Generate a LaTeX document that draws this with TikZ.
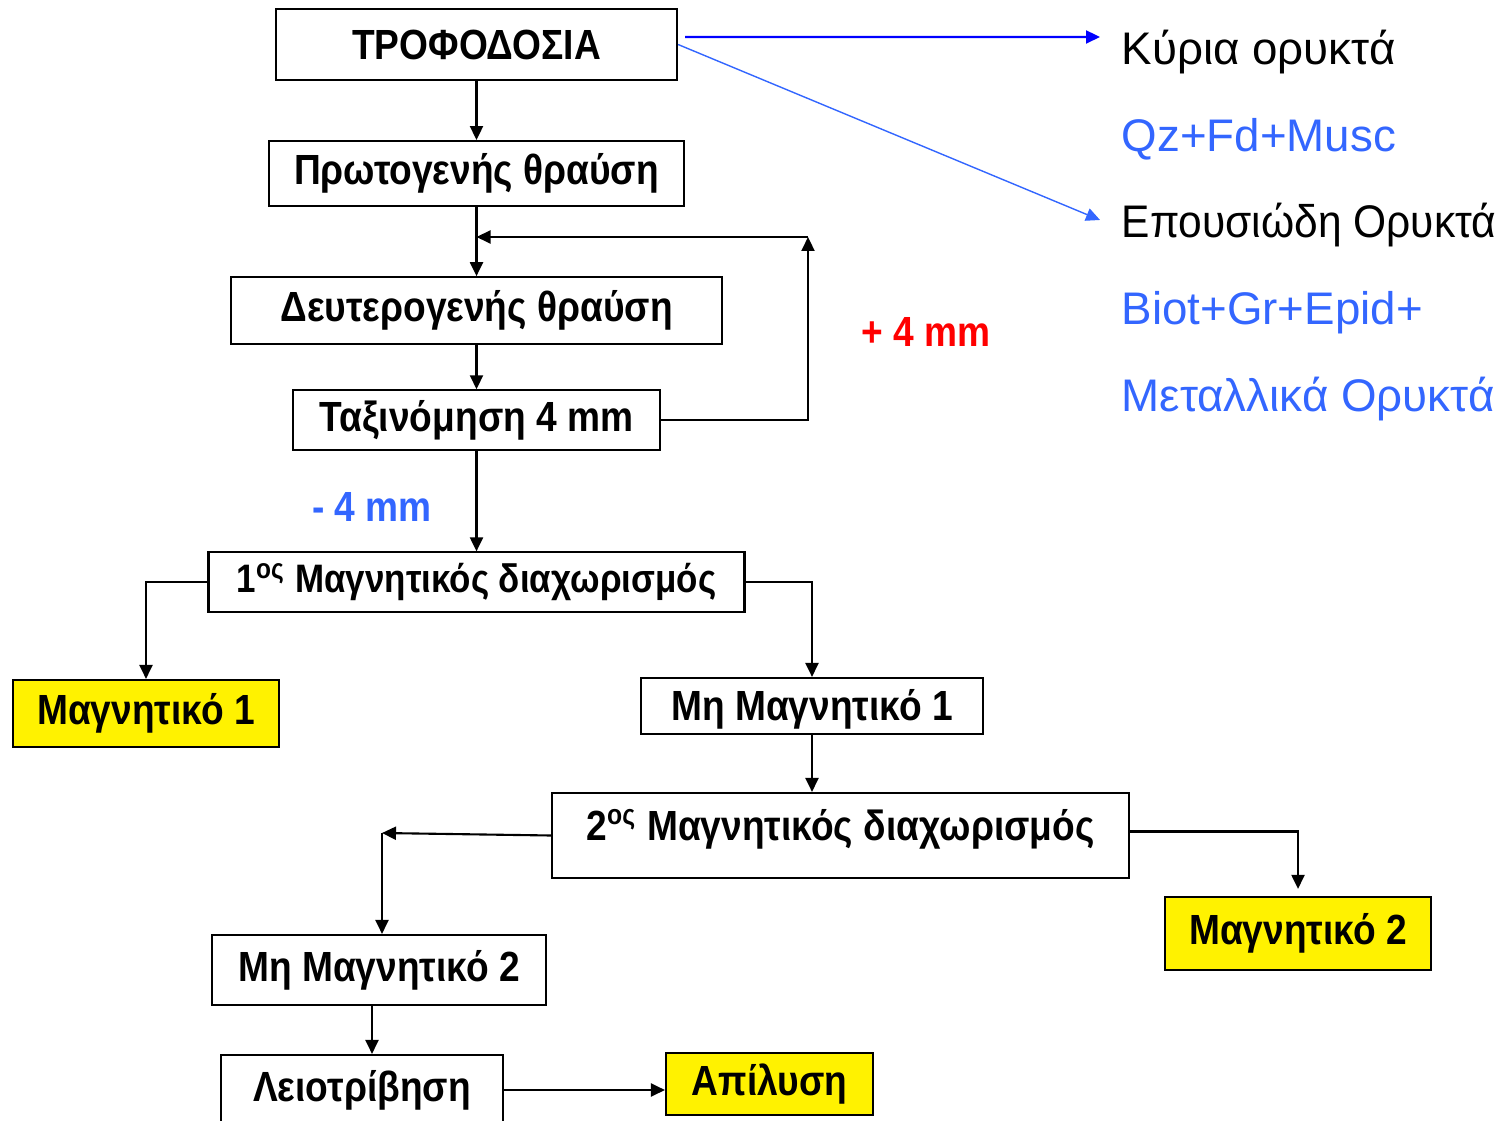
\documentclass[tikz,border=0pt]{standalone}
\usepackage{fontspec}
\setmainfont{Liberation Sans}
\newfontfamily\boxfont[FakeStretch=0.88]{Liberation Sans}
\newfontfamily\narrowfont[FakeStretch=0.93]{Liberation Sans}
\usetikzlibrary{arrows.meta, positioning}
\definecolor{mineralblue}{RGB}{51,102,255}
\tikzset{
	process/.style={
		rectangle,
		minimum height=0.65cm,
		inner ysep=1pt,
		text centered,
		draw=black,
		fill=white,
		semithick,
		font=\boxfont\bfseries\fontsize{12}{14}\selectfont
	},
	product/.style={
		process,
		fill=yellow
	},
	mineral/.style={
		anchor=base west,
		inner sep=0pt,
		font=\fontsize{13}{15}\selectfont
	},
	sizelabel/.style={
		inner sep=0pt,
		font=\boxfont\bfseries\fontsize{12}{14}\selectfont
	},
	arrow/.style={semithick,->,>={Triangle[length=1.4mm,width=1.3mm]}}
}

\begin{document}
\begin{tikzpicture}[x=1cm,y=1cm]
	\clip (0,0) rectangle (15.08,-11.21);
	% main line
	\node (feed) [process, minimum width=4.01cm, minimum height=0.71cm] at (4.765,-0.445) {ΤΡΟΦΟΔΟΣΙΑ};
	\node (primary) [process, minimum width=4.15cm, below=0.59cm of feed] {Πρωτογενής θραύση};
	\node (secondary) [process, minimum width=4.91cm, minimum height=0.67cm, below=0.69cm of primary] {Δευτερογενής θραύση};
	\node (sieve) [process, minimum width=3.67cm, minimum height=0.60cm, below=0.44cm of secondary] {Ταξινόμηση 4 mm};
	\node (sep1) [process, minimum width=5.36cm, minimum height=0.60cm, below=1.00cm of sieve, font=\boxfont\bfseries\fontsize{11.3}{13}\selectfont] {1\textsuperscript{ος} Μαγνητικός διαχωρισμός};
	\node (mag1) [product, minimum width=2.66cm, minimum height=0.67cm] at (1.46,-7.135) {Μαγνητικό 1};
	\node (nonmag1) [process, minimum width=3.42cm, minimum height=0.56cm, text depth=0.02cm] at (8.12,-7.06) {Μη Μαγνητικό 1};
	\node (sep2) [process, minimum width=5.77cm, minimum height=0.85cm, text depth=0.22cm] at (8.405,-8.355) {2\textsuperscript{ος} Μαγνητικός διαχωρισμός};
	\node (mag2) [product, minimum width=2.66cm, minimum height=0.73cm] at (12.98,-9.335) {Μαγνητικό 2};
	\node (nonmag2) [process, minimum width=3.34cm, minimum height=0.70cm] at (3.79,-9.70) {Μη Μαγνητικό 2};
	\node (grind) [process, minimum width=2.82cm, minimum height=0.70cm] at (3.62,-10.90) {Λειοτρίβηση};
	\node (leach) [product, minimum width=2.07cm, minimum height=0.62cm] at (7.695,-10.84) {Απίλυση};

	\node (plus) [sizelabel, text=red] at (9.26,-3.32) {+ 4 mm};
	\node (minus) [sizelabel, text=mineralblue] at (3.72,-5.07) {- 4 mm};

	% minerals
	\node (main) [mineral] at (11.21,-0.65) {Κύρια ορυκτά};
	\node (mainlist) [mineral, text=mineralblue] at (11.21,-1.52) {Qz+Fd+Musc};
	\node (minor) [mineral, font=\narrowfont\fontsize{13}{15}\selectfont] at (11.21,-2.38) {Επουσιώδη Ορυκτά};
	\node (minorlist) [mineral, text=mineralblue] at (11.21,-3.25) {Biot+Gr+Epid+};
	\node (metal) [mineral, text=mineralblue] at (11.21,-4.12) {Μεταλλικά Ορυκτά};

	\coordinate (loopup) at (8.08,-2.37);
	\coordinate (loopin) at (4.765,-2.37);
	\coordinate (split2) at (3.82,-8.33);
	\coordinate (mainend) at (11.0,-0.37);
	\coordinate (minorend) at (11.0,-2.20);

	\draw [arrow] (feed) -- (primary);
	\draw [arrow] (primary) -- (secondary);
	\draw [arrow] (secondary) -- (sieve);
	\draw [arrow] (sieve) -- (sep1);
	\draw [arrow] (sieve.east) -| (loopup);
	\draw [arrow] (loopup) -- (loopin);
	\draw [arrow] (sep1.west) -| (mag1.north);
	\draw [arrow] (sep1.east) -| (nonmag1.north);
	\draw [arrow] (nonmag1.south) -- (nonmag1.south |- sep2.north);
	\draw [arrow] (sep2.west) -- (split2);
	\draw [arrow] (split2) -- (split2 |- nonmag2.north);
	\draw [arrow, shorten >=2pt] ([yshift=0.04cm]sep2.east) -| (mag2.north);
	\draw [arrow] ([xshift=-0.07cm]nonmag2.south) -- ([xshift=-0.07cm]nonmag2.south |- grind.north);
	\draw [arrow] (grind.east) -- (grind.east -| leach.west);

	\draw [arrow, blue] ([xshift=0.07cm, yshift=0.075cm]feed.east) -- (mainend);
	\draw [arrow, mineralblue, thin] (feed.east) -- (minorend);
\end{tikzpicture}
\end{document}
